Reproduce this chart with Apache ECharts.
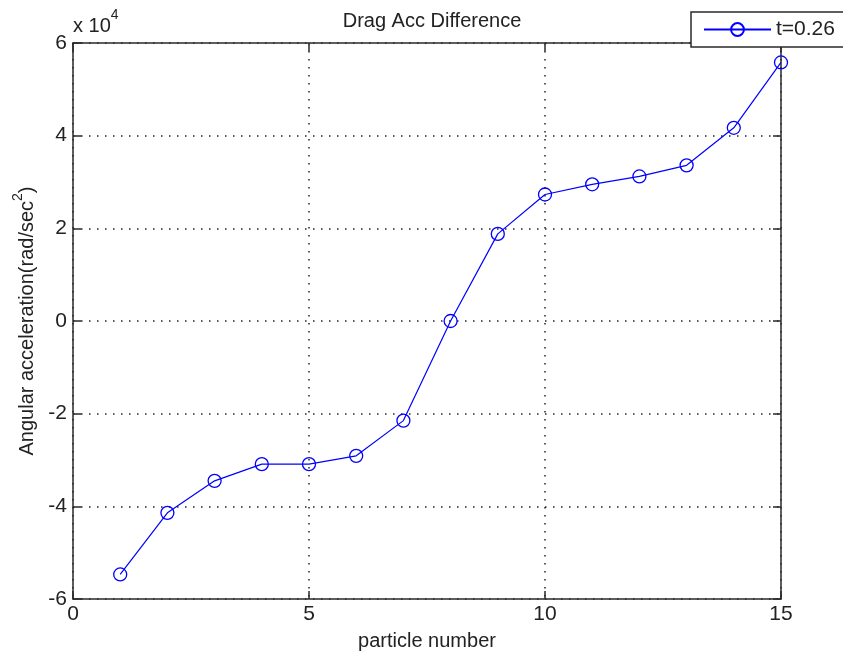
<!DOCTYPE html>
<html>
<head>
<meta charset="utf-8">
<title>Drag Acc Difference</title>
<script src="https://cdn.jsdelivr.net/npm/echarts@6/dist/echarts.min.js"></script>
<style>
  html, body { margin: 0; padding: 0; background: #fff; }
  #chart { width: 843px; height: 661px; }
</style>
</head>
<body>
<div id="chart"></div>
<script>
// particle index and angular acceleration (rad/sec^2)
const particles = [1, 2, 3, 4, 5, 6, 7, 8, 9, 10, 11, 12, 13, 14, 15]
const accDiff = [-54700, -41400, -34500, -30900, -30900, -29100, -21500, 0,
  18800, 27300, 29500, 31200, 33600, 41700, 55800]
const xTicks = [0, 5, 10, 15]
const yTicks = [-6, -4, -2, 0, 2, 4, 6]
const seriesName = 't=0.26'

const FONT = 'Liberation Sans, Arial, Helvetica, sans-serif'
const AXIS_COLOR = '#2a2a2a'
const BLUE = '#0000ff'

const chart = echarts.init(document.getElementById('chart'))

const frameAxis = {
  show: true,
  axisLine: { show: true, onZero: false, lineStyle: { color: AXIS_COLOR, width: 1.5 } },
  axisTick: { show: true, inside: true, length: 8, lineStyle: { color: AXIS_COLOR, width: 1.5 } },
  axisLabel: { show: false },
  splitLine: { show: false }
}

chart.setOption({
  backgroundColor: '#fff',
  animation: false,
  title: {
    text: 'Drag Acc Difference',
    left: 427,
    textAlign: 'center',
    top: 6,
    textStyle: { fontFamily: FONT, fontSize: 20, fontWeight: 'normal', color: '#222' }
  },
  legend: {
    left: 691,
    top: 12,
    orient: 'horizontal',
    padding: [7, 12, 7, 12],
    itemWidth: 67,
    itemHeight: 16,
    itemGap: 5,
    backgroundColor: '#fff',
    borderColor: AXIS_COLOR,
    borderWidth: 1.5,
    borderRadius: 0,
    textStyle: { fontFamily: FONT, fontSize: 21, color: '#222', padding: [0, 20, 0, 0] },
    data: [seriesName]
  },
  grid: { left: 73, right: 62, top: 43, bottom: 62, containLabel: false },
  xAxis: [
    {
      type: 'value',
      min: 0,
      max: 15,
      interval: 5,
      position: 'bottom',
      name: 'particle number',
      nameLocation: 'middle',
      nameGap: 32,
      nameTextStyle: { fontFamily: FONT, fontSize: 20, color: '#222' },
      axisLine: { onZero: false, lineStyle: { color: AXIS_COLOR, width: 1.5 } },
      axisTick: { inside: true, length: 8, lineStyle: { color: AXIS_COLOR, width: 1.5 } },
      axisLabel: {
        margin: 5,
        fontFamily: FONT,
        fontSize: 21,
        color: '#222',
        formatter: v => (xTicks.indexOf(v) >= 0 ? String(v) : '')
      },
      splitLine: { show: true, lineStyle: { color: '#222', width: 1.5, type: [1.5, 6.5] } }
    },
    Object.assign({ type: 'value', min: 0, max: 15, interval: 5, position: 'top' }, frameAxis)
  ],
  yAxis: [
    {
      type: 'value',
      min: -60000,
      max: 60000,
      interval: 20000,
      position: 'left',
      name: '{m|Angular acceleration(rad/sec}{s|2}{m|)}',
      nameLocation: 'middle',
      nameRotate: 90,
      nameGap: 32,
      nameTextStyle: {
        fontFamily: FONT,
        color: '#222',
        rich: {
          m: { fontFamily: FONT, fontSize: 20, color: '#222', lineHeight: 26, verticalAlign: 'bottom' },
          s: { fontFamily: FONT, fontSize: 14, color: '#222', lineHeight: 14, verticalAlign: 'top' }
        }
      },
      axisLine: { onZero: false, lineStyle: { color: AXIS_COLOR, width: 1.5 } },
      axisTick: { inside: true, length: 8, lineStyle: { color: AXIS_COLOR, width: 1.5 } },
      axisLabel: {
        margin: 6,
        fontFamily: FONT,
        fontSize: 21,
        color: '#222',
        formatter: v => {
          const t = Math.round(v / 10000)
          return yTicks.indexOf(t) >= 0 ? String(t) : ''
        }
      },
      splitLine: { show: true, lineStyle: { color: '#222', width: 1.5, type: [1.5, 6.5] } }
    },
    Object.assign({ type: 'value', min: -60000, max: 60000, interval: 20000, position: 'right' }, frameAxis)
  ],
  graphic: [
    {
      type: 'text',
      left: 73,
      top: 8,
      style: {
        text: '{m|x 10}{s|4}',
        rich: {
          m: { fontFamily: FONT, fontSize: 20, fill: '#222', lineHeight: 28, verticalAlign: 'bottom' },
          s: { fontFamily: FONT, fontSize: 14, fill: '#222', lineHeight: 14, verticalAlign: 'top' }
        }
      }
    }
  ],
  series: [
    {
      name: seriesName,
      type: 'line',
      xAxisIndex: 0,
      yAxisIndex: 0,
      data: particles.map((p, i) => [p, accDiff[i]]),
      symbol: 'circle',
      symbolSize: 13,
      showSymbol: true,
      lineStyle: { color: BLUE, width: 1.2 },
      itemStyle: { color: 'rgba(0,0,0,0)', borderColor: BLUE, borderWidth: 1.3 },
      emphasis: { disabled: true },
      z: 3
    }
  ]
})
</script>
</body>
</html>
